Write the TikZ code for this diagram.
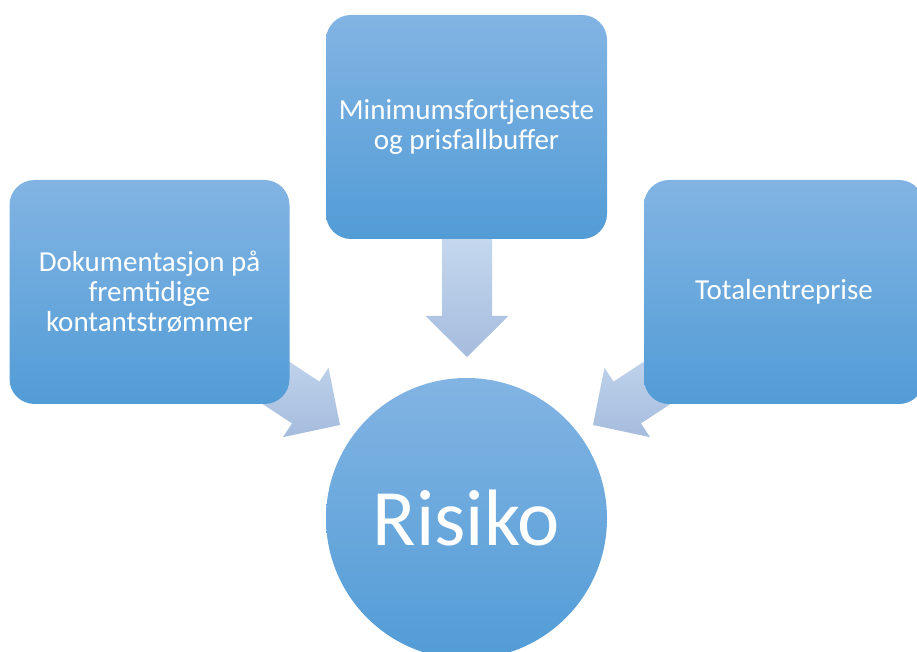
\documentclass[tikz,border=0pt]{standalone}
\usepackage{fontspec}
\setmainfont{Carlito}
\begin{document}
\begin{tikzpicture}[x=1pt,y=1pt,
  blockshade/.style={top color=boxtop, bottom color=boxbot, draw=none},
  itembox/.style={blockshade, rectangle, rounded corners=25pt,
    minimum width=280pt, minimum height=224pt,
    align=center, text=white, font=\fontsize{29}{30}\selectfont, inner sep=0pt},
  hub/.style={blockshade, circle, minimum size=281pt, inner sep=0pt,
    text=white, font=\fontsize{80}{90}\selectfont},
  flow/.style={top color=arrtop, bottom color=arrbot, draw=none}]
\definecolor{boxtop}{RGB}{130,180,227}
\definecolor{boxbot}{RGB}{82,156,214}
\definecolor{arrtop}{RGB}{199,218,240}
\definecolor{arrbot}{RGB}{166,188,221}
\useasboundingbox (0,0) rectangle (917,652);
\clip (0,0) rectangle (917,652);

% arrow tips pointing into the hub
\coordinate (tipL) at (340,227);
\coordinate (tipM) at (467,295);
\coordinate (tipR) at (593,227);

% block arrows, drawn first so their tails sit under the boxes
\foreach \tip/\ang in {tipL/-33.3, tipM/-90, tipR/213.3}{
  \begin{scope}[shift={(\tip)}, rotate=\ang]
    \shade[flow] (0,0) -- (-41,41.5) -- (-41,25) -- (-130,25)
      -- (-130,-25) -- (-41,-25) -- (-41,-41.5) -- cycle;
  \end{scope}
}

\node[itembox] (doc) at (149.5,360) {Dokumentasjon på\\fremtidige\\kontantstrømmer};
\node[itembox, minimum width=281pt] (min) at (466.5,525) {Minimumsfortjeneste\\og prisfallbuffer};
\node[itembox] (tot) at (784,360) {Totalentreprise};
\node[hub] (risk) at (466.5,133.5) {Risiko};
\end{tikzpicture}
\end{document}
